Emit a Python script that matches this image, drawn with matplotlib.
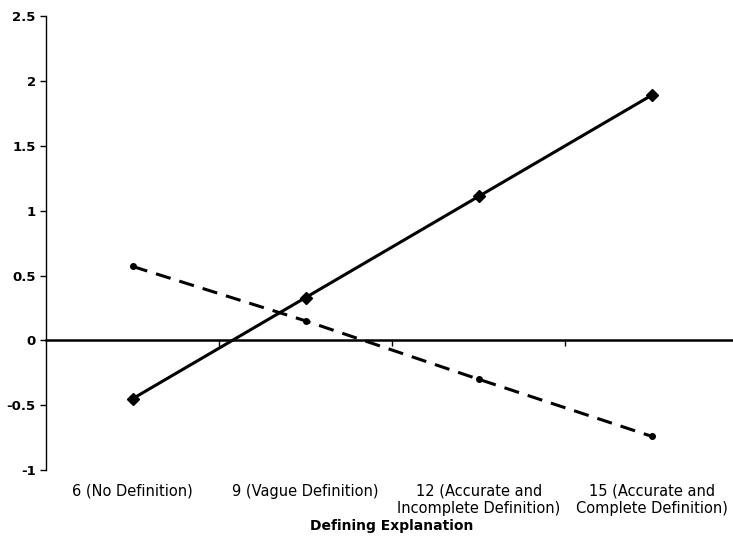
import matplotlib.pyplot as plt
from matplotlib.transforms import blended_transform_factory

categories = ["6 (No Definition)", "9 (Vague Definition)",
              "12 (Accurate and\nIncomplete Definition)",
              "15 (Accurate and\nComplete Definition)"]
solid_vals = [-0.45, 0.33, 1.11, 1.89]
dashed_vals = [0.57, 0.15, -0.30, -0.74]
yticks = [-1, -0.5, 0, 0.5, 1, 1.5, 2, 2.5]
ytick_labels = ["-1", "-0.5", "0", "0.5", "1", "1.5", "2", "2.5"]

fig = plt.figure(figsize=(7.33, 5.39), dpi=100)
ax = fig.add_axes([0.063, 0.128, 0.944, 0.842])

x = list(range(len(categories)))
ax.plot(x, solid_vals, color='black', lw=2.2, marker='D', markersize=6, zorder=3)
ax.plot(x, dashed_vals, color='black', lw=2.2, ls=(0, (5, 3)), marker='o',
        markersize=4, zorder=3)

ax.set_xlim(-0.5, 3.5)
ax.set_ylim(-1, 2.5)

for s in ['top', 'right']:
    ax.spines[s].set_visible(False)
ax.spines['bottom'].set_position(('data', 0))
ax.spines['bottom'].set_linewidth(1.8)
ax.spines['left'].set_linewidth(1.0)

ax.set_yticks(yticks)
ax.set_yticklabels(ytick_labels, fontsize=9.5, fontweight='bold')
ax.tick_params(axis='y', direction='out', length=4, width=1)

ax.set_xticks([0.5, 1.5, 2.5])
ax.set_xticklabels([])
ax.tick_params(axis='x', direction='out', length=4, width=1)

trans = blended_transform_factory(ax.transData, ax.transAxes)
for i, lab in enumerate(categories):
    ax.text(i, -0.03, lab, transform=trans, ha='center', va='top',
            fontsize=10.5, linespacing=1.2)

fig.text(0.535, 0.012, "Defining Explanation", ha='center', va='bottom',
         fontsize=10, fontweight='bold')

fig.savefig('out.png', dpi=100)
